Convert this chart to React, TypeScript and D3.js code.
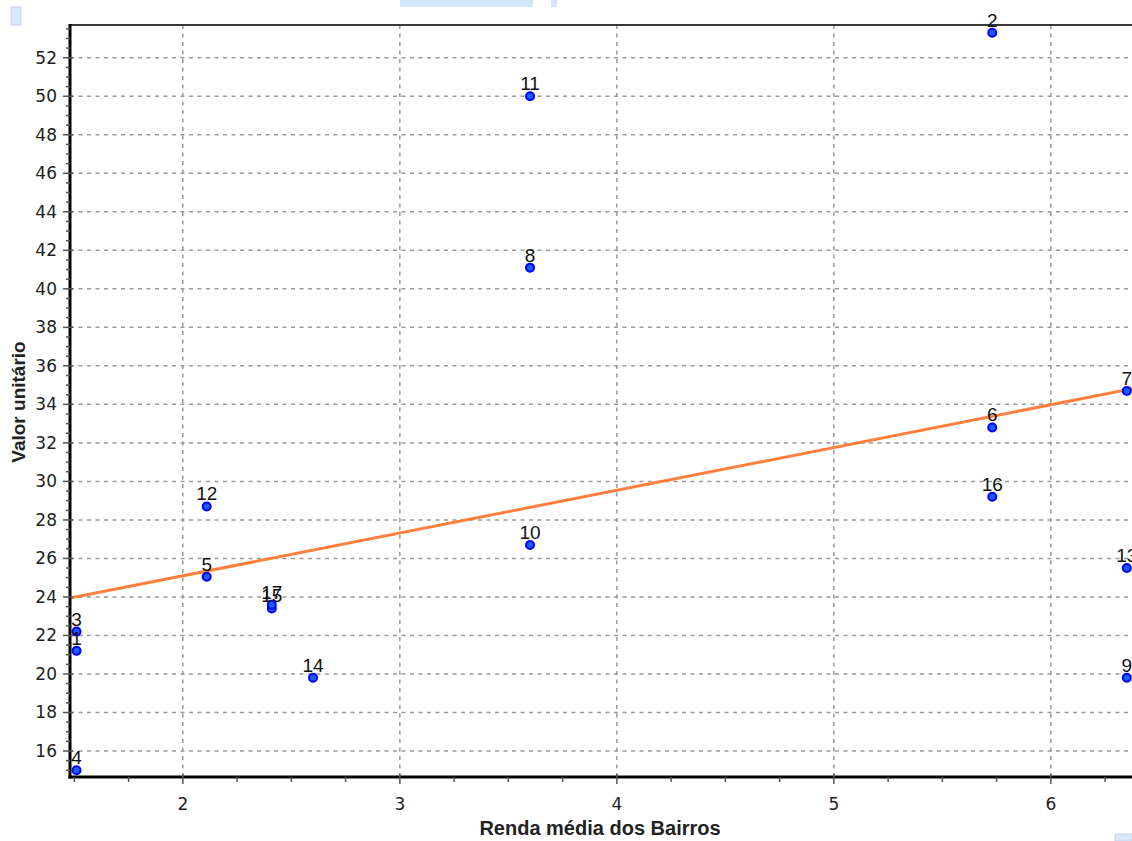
import React from 'react';
import * as d3 from 'd3';

// pontos: renda média (x) x valor unitário (y)
const ids = ['1', '2', '3', '4', '5', '6', '7', '8', '9', '10', '11', '12', '13', '14', '15', '16', '17'];
const renda = [1.51, 5.73, 1.51, 1.51, 2.11, 5.73, 6.35, 3.6, 6.35, 3.6, 3.6, 2.11, 6.35, 2.6, 2.41, 5.73, 2.41];
const valor = [21.2, 53.3, 22.2, 15.0, 25.05, 32.8, 34.7, 41.1, 19.8, 26.7, 50.0, 28.7, 25.5, 19.8, 23.4, 29.2, 23.6];

// reta de regressão
const regIntercept = 20.66;
const regSlope = 2.22;

const xTicks = [2, 3, 4, 5, 6];
const yTicks = [16, 18, 20, 22, 24, 26, 28, 30, 32, 34, 36, 38, 40, 42, 44, 46, 48, 50, 52];

const W = 1132;
const H = 841;
const plot = { left: 70, top: 25, right: 1138, bottom: 777 };

const App = () => {
  const x = d3.scaleLinear().domain([1.48, 6.4]).range([plot.left, plot.left + 4.92 * 217]);
  const y = d3.scaleLinear().domain([14.65, 53.7]).range([plot.bottom, plot.top]);

  const xMinor = d3.range(1.5, 6.41, 0.25).filter(v => !xTicks.includes(v));
  const yMinor = d3.range(15, 53.6, 0.5).filter(v => !yTicks.includes(v));

  const points = ids.map((id, i) => ({ id, x: renda[i], y: valor[i] }));
  const [x0, x1] = x.domain();
  const reg = [x0, x1].map(v => ({ x: v, y: regIntercept + regSlope * v }));
  const line = d3.line<{ x: number; y: number }>().x(d => x(d.x)).y(d => y(d.y));

  const tickFont = '"DejaVu Sans", Tahoma, sans-serif';
  const labelFont = '"Liberation Sans", Arial, sans-serif';

  return (
    <svg width={W} height={H} style={{ position: 'absolute', left: 0, top: 0, background: '#fff' }}>
      <defs>
        <clipPath id="plotClip">
          <rect x={plot.left} y={plot.top} width={plot.right - plot.left} height={plot.bottom - plot.top} />
        </clipPath>
      </defs>

      {/* restos de janela */}
      <rect x={11} y={7} width={10} height={18} fill="#dbe7fa" stroke="#c4d6f2" />
      <rect x={400} y={0} width={133} height={7} fill="#d3e4fb" />
      <rect x={551} y={0} width={6} height={7} fill="#d3e4fb" />
      <rect x={1115} y={834} width={17} height={7} fill="#dbe7fa" stroke="#c4d6f2" />

      {/* grade */}
      <g stroke="#9a9a9a" strokeWidth={1.5} strokeDasharray="4,4.5">
        {yTicks.map(t => (
          <line key={'gy' + t} x1={plot.left} x2={W} y1={y(t)} y2={y(t)} />
        ))}
        {xTicks.map(t => (
          <line key={'gx' + t} x1={x(t)} x2={x(t)} y1={plot.top} y2={plot.bottom} />
        ))}
      </g>

      {/* borda superior */}
      <line x1={plot.left} x2={W} y1={plot.top} y2={plot.top} stroke="#3a3a3a" strokeWidth={2} />

      {/* reta */}
      <path d={line(reg) || ''} fill="none" stroke="#ff7f3f" strokeWidth={3} clipPath="url(#plotClip)" />

      {/* pontos */}
      {points.map(p => (
        <circle key={'p' + p.id} cx={x(p.x)} cy={y(p.y)} r={4} fill="#1a5cff" stroke="#0000ff" strokeWidth={2} />
      ))}
      {points.map(p => (
        <text
          key={'l' + p.id}
          x={x(p.x)}
          y={y(p.y) - 6}
          textAnchor="middle"
          fontFamily={labelFont}
          fontSize={19}
          fill="#111"
        >
          {p.id}
        </text>
      ))}

      {/* eixos */}
      <line x1={plot.left} x2={plot.left} y1={plot.top - 1} y2={plot.bottom + 1.5} stroke="#000" strokeWidth={3} />
      <line x1={plot.left - 1.5} x2={W} y1={plot.bottom} y2={plot.bottom} stroke="#000" strokeWidth={3} />

      <g stroke="#555" strokeWidth={1.5}>
        {yTicks.map(t => (
          <line key={'ty' + t} x1={plot.left - 7} x2={plot.left + 3} y1={y(t)} y2={y(t)} />
        ))}
        {yMinor.map(t => (
          <line key={'my' + t} x1={plot.left - 4} x2={plot.left} y1={y(t)} y2={y(t)} />
        ))}
        {xTicks.map(t => (
          <line key={'tx' + t} x1={x(t)} x2={x(t)} y1={plot.bottom - 3} y2={plot.bottom + 7} />
        ))}
        {xMinor.map(t => (
          <line key={'mx' + t} x1={x(t)} x2={x(t)} y1={plot.bottom} y2={plot.bottom + 5} />
        ))}
      </g>

      <g fontFamily={tickFont} fontSize={17} fill="#222">
        {yTicks.map(t => (
          <text key={'yl' + t} x={57} y={y(t) + 6} textAnchor="end">
            {t}
          </text>
        ))}
        {xTicks.map(t => (
          <text key={'xl' + t} x={x(t)} y={810} textAnchor="middle">
            {t}
          </text>
        ))}
      </g>

      <text x={600} y={835} textAnchor="middle" fontFamily={labelFont} fontWeight="bold" fontSize={20} fill="#222">
        Renda média dos Bairros
      </text>
      <text
        transform={`translate(25,402) rotate(-90)`}
        textAnchor="middle"
        fontFamily={labelFont}
        fontWeight="bold"
        fontSize={19}
        fill="#222"
      >
        Valor unitário
      </text>
    </svg>
  );
};

export default App;
